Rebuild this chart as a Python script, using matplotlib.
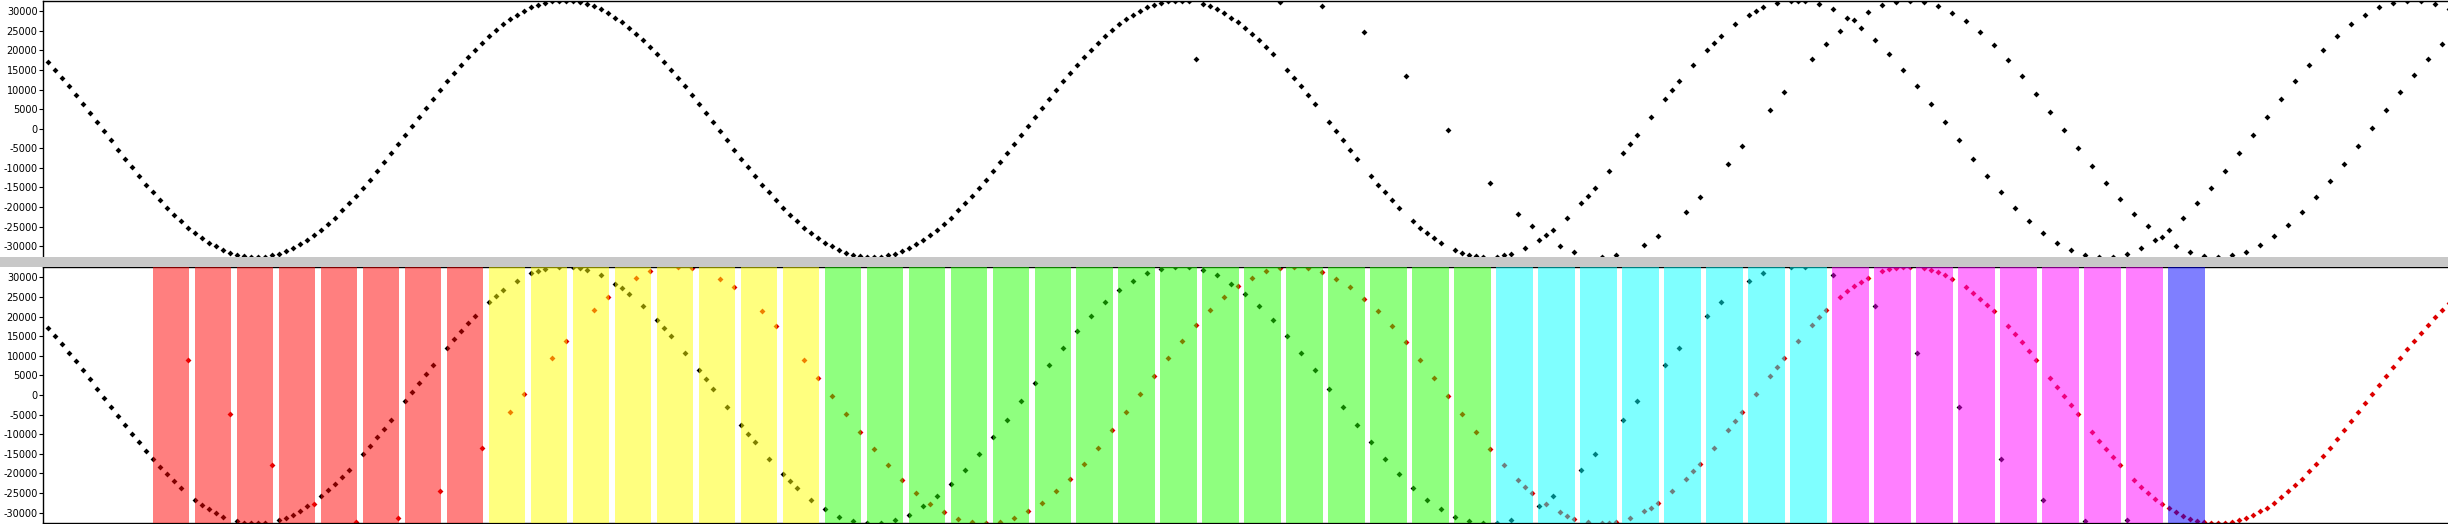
import matplotlib
matplotlib.use('Agg')
import matplotlib.pyplot as plt
import numpy as np
from matplotlib.patches import Rectangle

plt.rcParams['axes.unicode_minus'] = False

# input stream, one value per sample (thousands)
input_k = [
    17.1, 15.1, 13.0, 10.8, 8.6, 6.3, 4.0, 1.6,
    # 8-51
    -0.7, -3.0, -5.4, -7.7, -9.9, -12.1, -14.3, -16.3, -18.3, -20.2, -22.0,
    -23.7, -25.3, -26.7, -28.0, -29.1, -30.1, -31.0, -31.7, -32.2, -32.6, -32.8,
    -32.8, -32.7, -32.4, -31.9, -31.3, -30.5, -29.5, -28.4, -27.2, -25.8, -24.3,
    -22.7, -20.9, -19.1, -17.1, -15.1, -13.0, -10.8, -8.6, -6.3, -4.0, -1.6,
    # 52-95
    0.7, 3.0, 5.4, 7.7, 9.9, 12.1, 14.3, 16.3, 18.3, 20.2, 22.0,
    23.7, 25.3, 26.7, 28.0, 29.1, 30.1, 31.0, 31.7, 32.2, 32.6, 32.8,
    32.8, 32.7, 32.4, 31.9, 31.3, 30.5, 29.5, 28.4, 27.2, 25.8, 24.3,
    22.7, 20.9, 19.1, 17.1, 15.1, 13.0, 10.8, 8.6, 6.3, 4.0, 1.6,
    # 96-139
    -0.7, -3.0, -5.4, -7.7, -9.9, -12.1, -14.3, -16.3, -18.3, -20.2, -22.0,
    -23.7, -25.3, -26.7, -28.0, -29.1, -30.1, -31.0, -31.7, -32.2, -32.6, -32.8,
    -32.8, -32.7, -32.4, -31.9, -31.3, -30.5, -29.5, -28.4, -27.2, -25.8, -24.3,
    -22.7, -20.9, -19.1, -17.1, -15.1, -13.0, -10.8, -8.6, -6.3, -4.0, -1.6,
    # 140-183
    0.7, 3.0, 5.4, 7.7, 9.9, 12.1, 14.3, 16.3, 18.3, 20.2, 22.0,
    23.7, 25.3, 26.7, 28.0, 29.1, 30.1, 31.0, 31.7, 32.2, 32.6, 32.8,
    32.8, 32.7, 32.4, 31.9, 31.3, 30.5, 29.5, 28.4, 27.2, 25.8, 24.3,
    22.7, 20.9, 19.1, 17.1, 15.1, 13.0, 10.8, 8.6, 6.3, 4.0, 1.6,
    # 184-227
    -0.7, -3.0, -5.4, -7.7, -9.9, -12.1, -14.3, -16.3, -18.3, -20.2, -22.0,
    -23.7, -25.3, -26.7, -28.0, -29.1, -30.1, -31.0, -31.7, -32.2, -32.6, -32.8,
    -32.8, -32.7, -32.4, -31.9, -31.3, -30.5, -29.5, -28.4, -27.2, -25.8, -24.3,
    -22.7, -20.9, -19.1, -17.1, -15.1, -13.0, -10.8, -8.6, -6.3, -4.0, -1.6,
    # 228-271
    0.7, 3.0, 5.4, 7.7, 9.9, 12.1, 14.3, 16.3, 18.3, 20.2, 22.0,
    23.7, 25.3, 26.7, 28.0, 29.1, 30.1, 31.0, 31.7, 32.2, 32.6, 32.8,
    32.8, 32.7, 32.4, 31.9, 31.3, 30.5, 29.5, 28.4, 27.2, 25.8, 24.3,
    22.7, 20.9, 19.1, 17.1, 15.1, 13.0, 10.8, 8.6, 6.3, 4.0, 1.6,
    # 272-315
    -0.7, -3.0, -5.4, -7.7, -9.9, -12.1, -14.3, -16.3, -18.3, -20.2, -22.0,
    -23.7, -25.3, -26.7, -28.0, -29.1, -30.1, -31.0, -31.7, -32.2, -32.6, -32.8,
    -32.8, -32.7, -32.4, -31.9, -31.3, -30.5, -29.5, -28.4, -27.2, -25.8, -24.3,
    -22.7, -20.9, -19.1, -17.1, -15.1, -13.0, -10.8, -8.6, -6.3, -4.0, -1.6,
    # 316-343
    0.7, 3.0, 5.4, 7.7, 9.9, 12.1, 14.3, 16.3, 18.3, 20.2, 22.0,
    23.7, 25.3, 26.7, 28.0, 29.1, 30.1, 31.0, 31.7, 32.2, 32.6, 32.8,
    32.8, 32.7, 32.4, 31.9, 31.3, 30.5,
]

# output stream (red dots), same sample grid (thousands)
output_k = [
    32.5, 32.7, 32.8, 32.7, 32.4, 32.0, 31.4, 30.7, 29.7, 28.7, 27.5, 26.1,
    24.6, 23.0, 21.3, 19.5, 17.5, 15.5, 13.4, 11.3, 9.0, 6.7, 4.4, 2.1,
    # 24-67
    -0.2, -2.6, -4.9, -7.2, -9.5, -11.7, -13.8, -15.9, -17.9, -19.9, -21.7,
    -23.4, -24.9, -26.4, -27.7, -28.9, -29.9, -30.8, -31.5, -32.1, -32.5, -32.7,
    -32.8, -32.7, -32.4, -32.0, -31.4, -30.7, -29.7, -28.7, -27.5, -26.1, -24.6,
    -23.0, -21.3, -19.5, -17.5, -15.5, -13.4, -11.3, -9.0, -6.7, -4.4, -2.1,
    # 68-111
    0.2, 2.6, 4.9, 7.2, 9.5, 11.7, 13.8, 15.9, 17.9, 19.9, 21.7,
    23.4, 24.9, 26.4, 27.7, 28.9, 29.9, 30.8, 31.5, 32.1, 32.5, 32.7,
    32.8, 32.7, 32.4, 32.0, 31.4, 30.7, 29.7, 28.7, 27.5, 26.1, 24.6,
    23.0, 21.3, 19.5, 17.5, 15.5, 13.4, 11.3, 9.0, 6.7, 4.4, 2.1,
    # 112-155
    -0.2, -2.6, -4.9, -7.2, -9.5, -11.7, -13.8, -15.9, -17.9, -19.9, -21.7,
    -23.4, -24.9, -26.4, -27.7, -28.9, -29.9, -30.8, -31.5, -32.1, -32.5, -32.7,
    -32.8, -32.7, -32.4, -32.0, -31.4, -30.7, -29.7, -28.7, -27.5, -26.1, -24.6,
    -23.0, -21.3, -19.5, -17.5, -15.5, -13.4, -11.3, -9.0, -6.7, -4.4, -2.1,
    # 156-199
    0.2, 2.6, 4.9, 7.2, 9.5, 11.7, 13.8, 15.9, 17.9, 19.9, 21.7,
    23.4, 24.9, 26.4, 27.7, 28.9, 29.9, 30.8, 31.5, 32.1, 32.5, 32.7,
    32.8, 32.7, 32.4, 32.0, 31.4, 30.7, 29.7, 28.7, 27.5, 26.1, 24.6,
    23.0, 21.3, 19.5, 17.5, 15.5, 13.4, 11.3, 9.0, 6.7, 4.4, 2.1,
    # 200-243
    -0.2, -2.6, -4.9, -7.2, -9.5, -11.7, -13.8, -15.9, -17.9, -19.9, -21.7,
    -23.4, -24.9, -26.4, -27.7, -28.9, -29.9, -30.8, -31.5, -32.1, -32.5, -32.7,
    -32.8, -32.7, -32.4, -32.0, -31.4, -30.7, -29.7, -28.7, -27.5, -26.1, -24.6,
    -23.0, -21.3, -19.5, -17.5, -15.5, -13.4, -11.3, -9.0, -6.7, -4.4, -2.1,
    # 244-287
    0.2, 2.6, 4.9, 7.2, 9.5, 11.7, 13.8, 15.9, 17.9, 19.9, 21.7,
    23.4, 24.9, 26.4, 27.7, 28.9, 29.9, 30.8, 31.5, 32.1, 32.5, 32.7,
    32.8, 32.7, 32.4, 32.0, 31.4, 30.7, 29.7, 28.7, 27.5, 26.1, 24.6,
    23.0, 21.3, 19.5, 17.5, 15.5, 13.4, 11.3, 9.0, 6.7, 4.4, 2.1,
    # 288-331
    -0.2, -2.6, -4.9, -7.2, -9.5, -11.7, -13.8, -15.9, -17.9, -19.9, -21.7,
    -23.4, -24.9, -26.4, -27.7, -28.9, -29.9, -30.8, -31.5, -32.1, -32.5, -32.7,
    -32.8, -32.7, -32.4, -32.0, -31.4, -30.7, -29.7, -28.7, -27.5, -26.1, -24.6,
    -23.0, -21.3, -19.5, -17.5, -15.5, -13.4, -11.3, -9.0, -6.7, -4.4, -2.1,
    # 332-343
    0.2, 2.6, 4.9, 7.2, 9.5, 11.7, 13.8, 15.9, 17.9, 19.9, 21.7, 23.4,
]

# samples where the upper strip already carries the output stream
top_output_slots = [164, 176, 182, 188, 194, 200, 206, 210, 212, 216, 218,
                    222, 224, 228, 230, 234, 236, 240, 242, 246, 248, 252,
                    254] + list(range(256, 343, 2))

# crossfade blocks of the lower strip
block_colors = ['#FF0000', '#FFFF00', '#20FF00', '#00FFFF', '#FF00FF', '#0000FF']
blocks_per_color = [8, 8, 16, 8, 8, 1]
output_slots = [[5], [3, 5], [1, 3, 5], [1, 3, 4, 5], [1, 2, 3, 4, 5],
                [0, 1, 2, 3, 4, 5]]
first_block = 15
block_size = 6


def to_samples(values_k):
    return np.clip(np.array(values_k) * 1000.0, -32768, 32767)


def style_axis(ax):
    ax.set_xlim(-0.714, 342.86)
    ax.set_ylim(-32768, 32767)
    ticks = list(range(-30000, 30001, 5000))
    ax.set_yticks(ticks)
    ax.set_yticklabels([str(t) for t in ticks], fontsize=7)
    ax.tick_params(axis='y', length=3, pad=1, width=0.8)
    ax.tick_params(axis='x', bottom=False, labelbottom=False)
    ax.spines['right'].set_visible(False)
    for side in ('left', 'top', 'bottom'):
        ax.spines[side].set_linewidth(1.0)


def dots(ax, x, y, color):
    ax.plot(x, y, linestyle='none', marker='D', ms=3.0, mew=0,
            color=color, zorder=2)


def main():
    inp = to_samples(input_k)
    out = to_samples(output_k)
    idx = np.arange(len(inp))

    fig = plt.figure(figsize=(24.48, 5.24), dpi=100)
    fig.patches.append(Rectangle((0, 0.4914), 1, 0.0183, transform=fig.transFigure,
                                 facecolor='#C8C8C8', edgecolor='none'))

    # upper strip
    ax_top = fig.add_axes([0.017565, 0.5097, 0.982435, 0.4893])
    style_axis(ax_top)
    ax_top.spines['bottom'].set_visible(False)
    top_mask = np.isin(idx, top_output_slots)
    dots(ax_top, idx, np.where(top_mask, out, inp), 'black')

    # lower strip with the crossfade blocks
    ax_bot = fig.add_axes([0.017565, 0.001, 0.982435, 0.4904])
    style_axis(ax_bot)
    is_out = np.zeros(len(inp), dtype=bool)
    block = 0
    for color, count, slots in zip(block_colors, blocks_per_color, output_slots):
        for _ in range(count):
            start = first_block + block * block_size
            for s in slots:
                is_out[start + s] = True
            ax_bot.axvspan(start - 0.07, start + 5.14, facecolor=color,
                           alpha=0.5, lw=0, zorder=3)
            block += 1
    is_out[first_block + block * block_size:] = True

    dots(ax_bot, idx[~is_out], inp[~is_out], 'black')
    dots(ax_bot, idx[is_out], out[is_out], '#DD0000')

    fig.savefig('out.png', dpi=100)


if __name__ == '__main__':
    main()
